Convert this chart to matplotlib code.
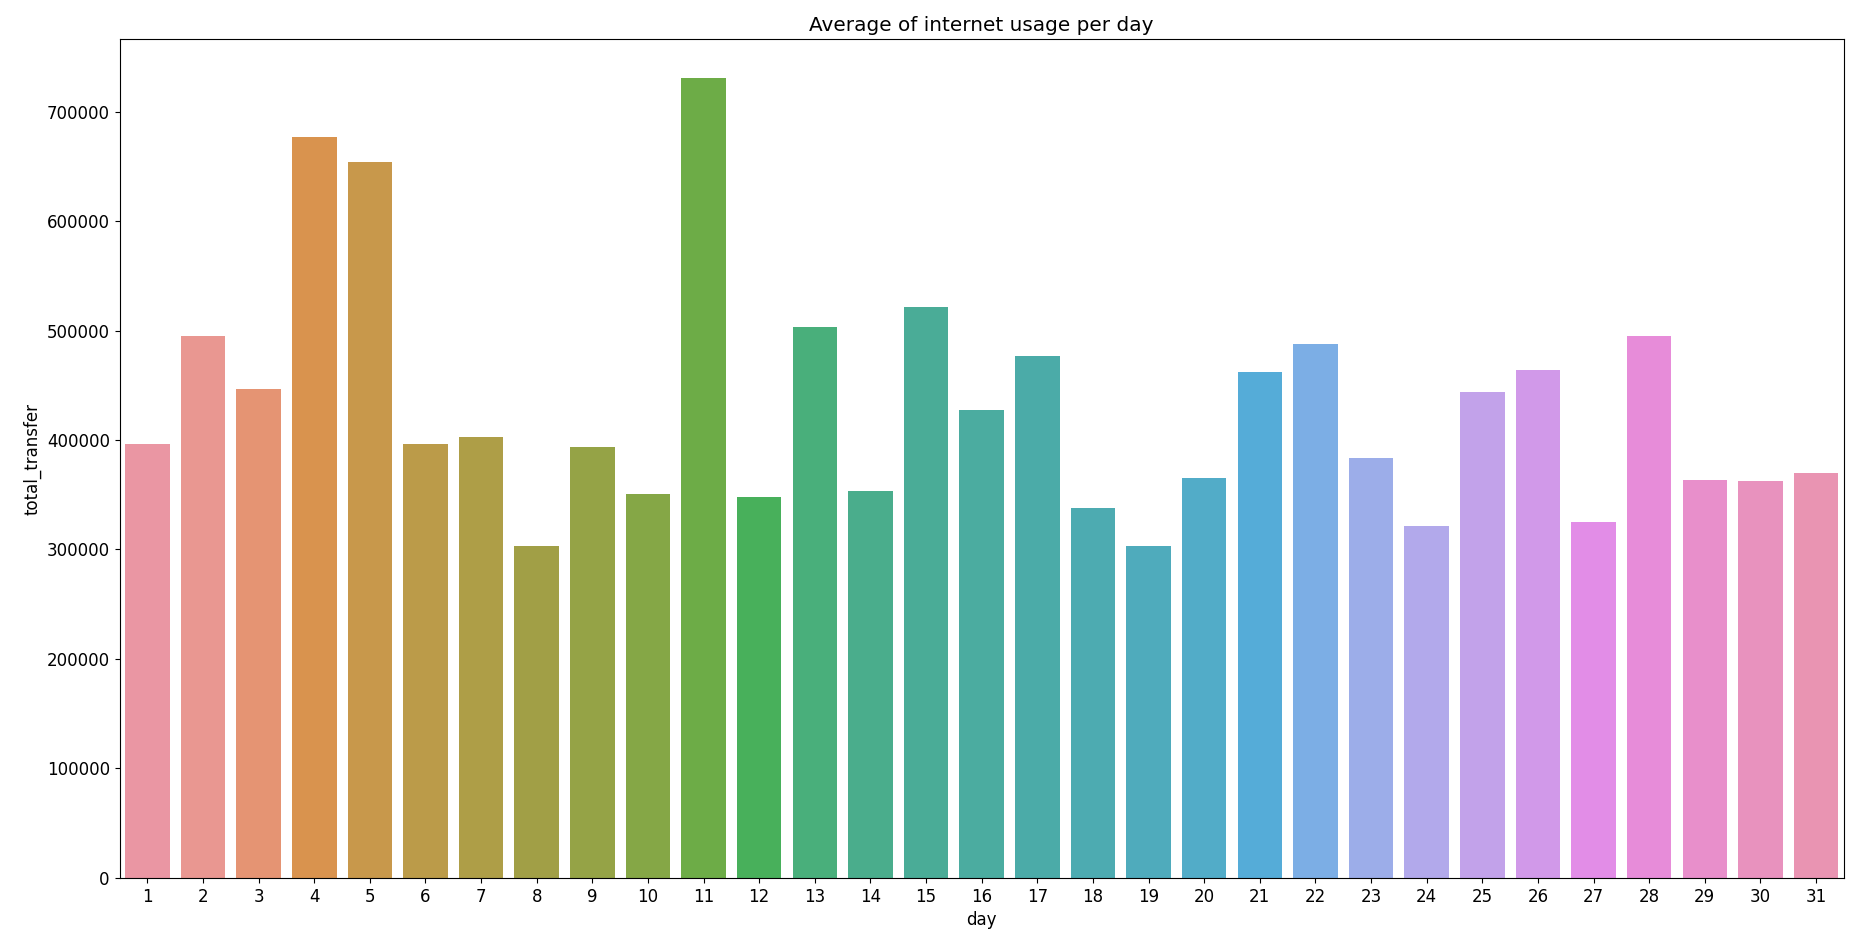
import matplotlib
matplotlib.use("Agg")
import matplotlib.pyplot as plt
import seaborn as sns
import pandas as pd

days = list(range(1, 32))
total_transfer = [396600, 495200, 446700, 677100, 653700, 396600, 402600, 302900,
                  393300, 350800, 730500, 348100, 503400, 353000, 521900, 427600,
                  476700, 338300, 302900, 365000, 462500, 487600, 384000, 321400,
                  444000, 464100, 324700, 495200, 363900, 362300, 369900]

df = pd.DataFrame({"day": days, "total_transfer": total_transfer})

plt.rcParams['font.size'] = 12
fig = plt.figure(figsize=(18.54, 9.35), dpi=100)
ax = fig.add_axes([0.0645, 0.061, 0.930, 0.897])
pal = [sns.desaturate(c, 0.75) for c in sns.husl_palette(len(days), l=.7)]
sns.barplot(data=df, x="day", y="total_transfer", hue="day", palette=pal,
            saturation=1, legend=False, ax=ax)
ax.set_title("Average of internet usage per day")
ax.set_xlabel("day")
ax.set_ylabel("total_transfer")
ax.set_ylim(0, 766000)
fig.savefig("out.png", dpi=100)
